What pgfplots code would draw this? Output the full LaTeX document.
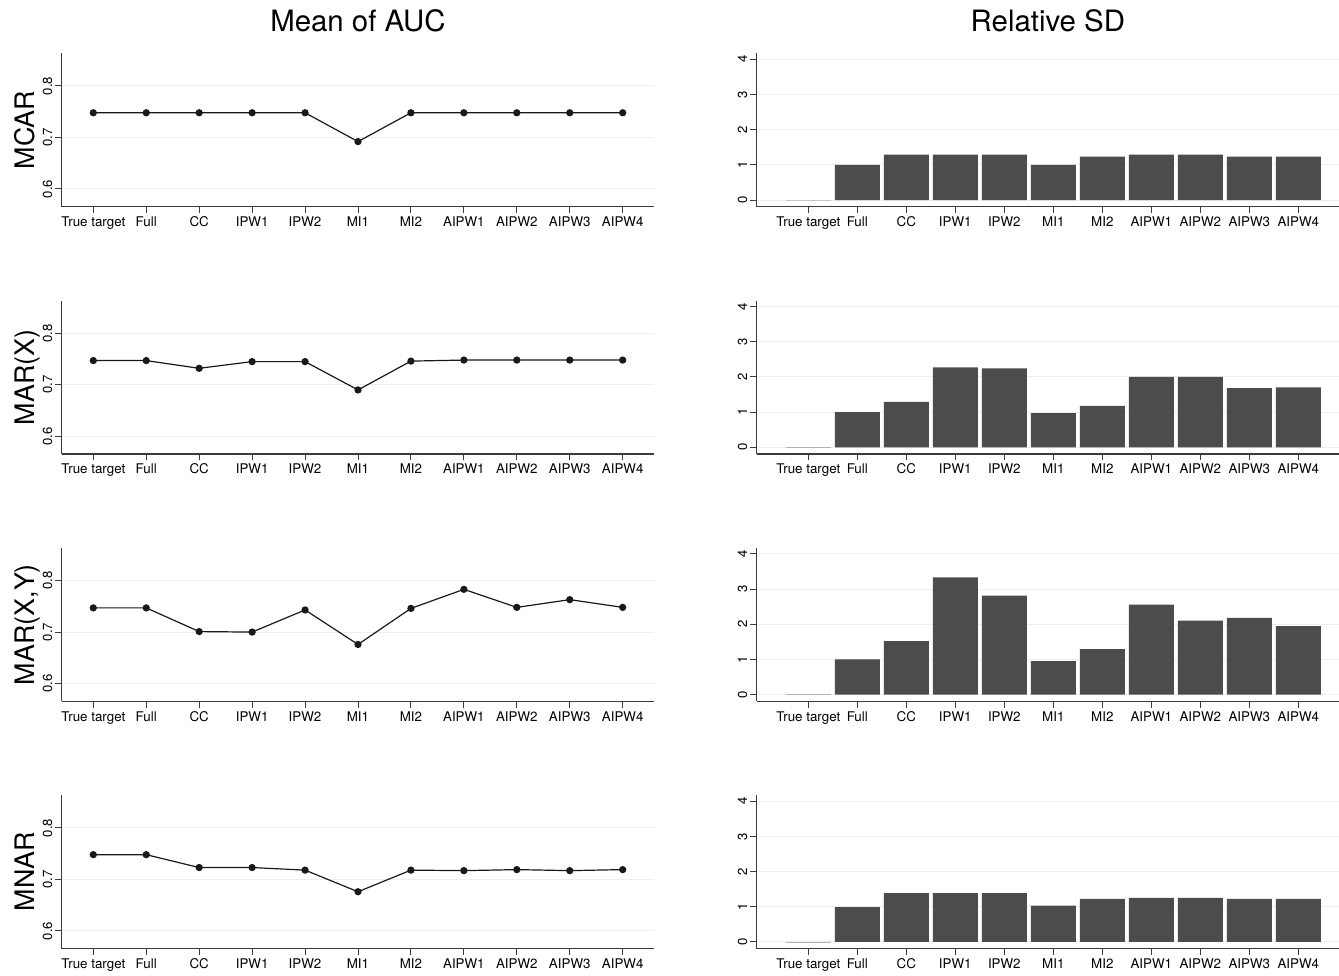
\documentclass[border=0pt]{standalone}
\usepackage{fontspec}
\setmainfont{TeX Gyre Heros}
\usepackage{pgfplots}
\pgfplotsset{compat=1.18}
\definecolor{barc}{RGB}{75,76,78}
\definecolor{axc}{RGB}{60,60,60}
\definecolor{gridc}{RGB}{238,238,238}
\definecolor{linec}{RGB}{25,25,25}

\pgfplotsset{
 base/.style={
  scale only axis, height=153.4bp,
  axis lines*=left, axis line style={-, draw=axc, line width=1.2bp},
  tick align=outside, major tick length=6.5bp, tick style={axc, line width=1bp},
  xtick={0,...,10},
  xticklabels={True target,Full,CC,IPW1,IPW2,MI1,MI2,AIPW1,AIPW2,AIPW3,AIPW4},
  xticklabel style={font=\fontsize{13.4}{14}\selectfont},
  /pgf/number format/assume math mode=true,
  yticklabel={\pgfmathprintnumber{\tick}},
  yticklabel style={font=\fontsize{13.2}{14}\selectfont, rotate=90, anchor=south, inner sep=2.8bp},
  ymajorgrids, major grid style={draw=gridc, line width=1bp},
  ylabel style={at={(axis description cs:-0.046,0.5)}, anchor=base, font=\fontsize{27}{28}\selectfont},
  title style={at={(axis description cs:0.5,1)}, anchor=base, yshift=15.6bp, font=\fontsize{29.5}{30}\selectfont},
 },
 lft/.style={base, width=592.6bp, xmin=-0.597, xmax=10.597, ymin=0.5656, ymax=0.8635, ytick={0.6,0.7,0.8},
   yticklabel style={/pgf/number format/.cd, fixed, precision=1}},
 rgt/.style={base, width=582.3bp, xmin=-1.053, xmax=10.83, ymin=-0.19, ymax=4.17, ytick={0,1,2,3,4}},
 auc/.style={color=linec, line width=1.2bp, mark=*, mark size=3bp, mark options={fill=linec}},
 sdbar/.style={ybar, bar width=0.918, bar shift=0pt, fill=barc, draw=none},
 ttbar/.style={ybar, bar width=0.918, bar shift=0pt, fill=none, draw=black!30, line width=0.7bp},
}

\begin{document}
\begin{tikzpicture}
\useasboundingbox (0,0) rectangle (1339bp,976bp);

% ---------- Row 1: MCAR ----------
\begin{axis}[lft, at={(61.7bp,769.3bp)}, anchor=south west, title={Mean of AUC}, ylabel={MCAR}]
\addplot[auc] coordinates {(0,0.748) (1,0.748) (2,0.748) (3,0.748) (4,0.748) (5,0.692) (6,0.748) (7,0.748) (8,0.748) (9,0.748) (10,0.748)};
\end{axis}
\begin{axis}[rgt, at={(756.7bp,769.3bp)}, anchor=south west, title={Relative SD}]
\addplot[ttbar] coordinates {(0,0)};
\addplot[sdbar] coordinates {(1,1.00) (2,1.29) (3,1.29) (4,1.29) (5,1.00) (6,1.23) (7,1.29) (8,1.29) (9,1.23) (10,1.23)};
\end{axis}

% ---------- Row 2: MAR(X) ----------
\begin{axis}[lft, at={(61.7bp,522.0bp)}, anchor=south west, ylabel={MAR(X)}]
\addplot[auc] coordinates {(0,0.747) (1,0.747) (2,0.732) (3,0.745) (4,0.745) (5,0.690) (6,0.746) (7,0.748) (8,0.748) (9,0.748) (10,0.748)};
\end{axis}
\begin{axis}[rgt, at={(756.7bp,522.0bp)}, anchor=south west]
\addplot[ttbar] coordinates {(0,0)};
\addplot[sdbar] coordinates {(1,1.00) (2,1.29) (3,2.27) (4,2.24) (5,0.97) (6,1.18) (7,2.00) (8,2.00) (9,1.68) (10,1.70)};
\end{axis}

% ---------- Row 3: MAR(X,Y) ----------
\begin{axis}[lft, at={(61.7bp,274.7bp)}, anchor=south west, ylabel={MAR(X,Y)}]
\addplot[auc] coordinates {(0,0.747) (1,0.747) (2,0.701) (3,0.700) (4,0.743) (5,0.676) (6,0.746) (7,0.783) (8,0.748) (9,0.763) (10,0.748)};
\end{axis}
\begin{axis}[rgt, at={(756.7bp,274.7bp)}, anchor=south west]
\addplot[ttbar] coordinates {(0,0)};
\addplot[sdbar] coordinates {(1,1.00) (2,1.52) (3,3.33) (4,2.81) (5,0.95) (6,1.29) (7,2.56) (8,2.10) (9,2.18) (10,1.95)};
\end{axis}

% ---------- Row 4: MNAR ----------
\begin{axis}[lft, at={(61.7bp,27.4bp)}, anchor=south west, ylabel={MNAR}]
\addplot[auc] coordinates {(0,0.748) (1,0.748) (2,0.723) (3,0.723) (4,0.718) (5,0.676) (6,0.718) (7,0.717) (8,0.719) (9,0.717) (10,0.719)};
\end{axis}
\begin{axis}[rgt, at={(756.7bp,27.4bp)}, anchor=south west]
\addplot[ttbar] coordinates {(0,0)};
\addplot[sdbar] coordinates {(1,0.99) (2,1.39) (3,1.39) (4,1.39) (5,1.03) (6,1.22) (7,1.25) (8,1.25) (9,1.22) (10,1.22)};
\end{axis}
\end{tikzpicture}
\end{document}
